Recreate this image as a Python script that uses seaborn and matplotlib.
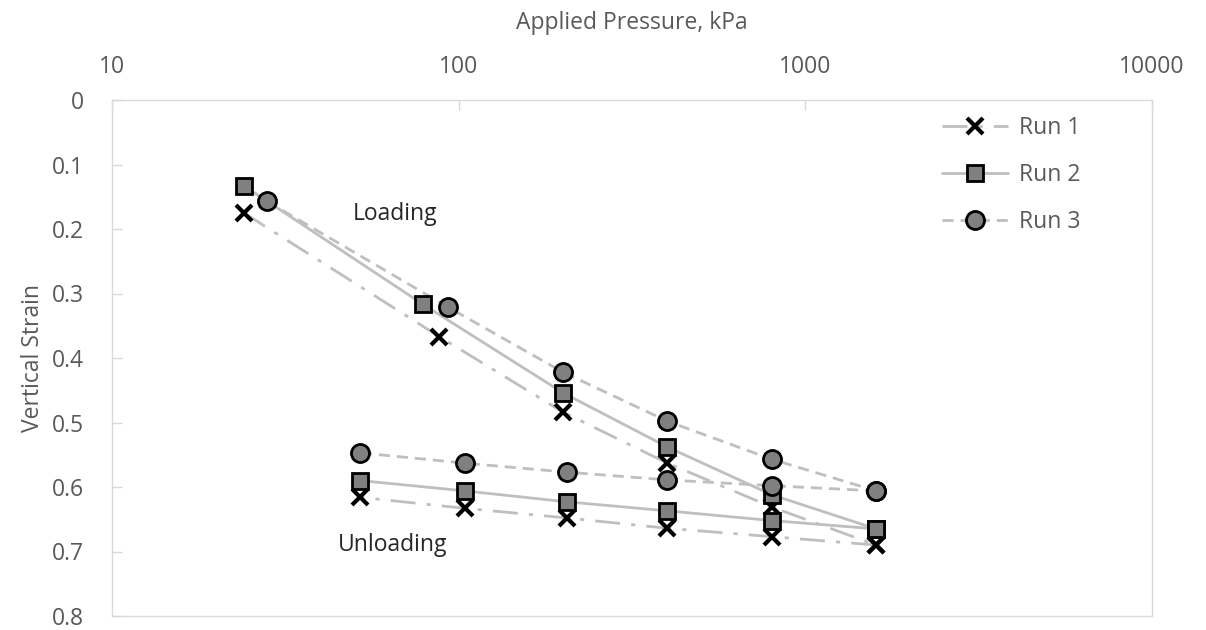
import matplotlib
matplotlib.use("Agg")
import matplotlib.pyplot as plt
import seaborn as sns
import pandas as pd
from matplotlib.ticker import FixedLocator, NullLocator, FixedFormatter

# ---- data ----
runs = ["Run 1", "Run 2", "Run 3"]
load_p_run1 = [24, 88, 200, 400, 800, 1600]
load_p_run2 = [24, 79, 200, 400, 800, 1600]
load_p_run3 = [28, 93, 200, 400, 800, 1600]
load_s_run1 = [0.175, 0.367, 0.484, 0.563, 0.631, 0.690]
load_s_run2 = [0.133, 0.317, 0.454, 0.538, 0.612, 0.665]
load_s_run3 = [0.157, 0.321, 0.422, 0.498, 0.557, 0.606]
unload_p = [1600, 800, 400, 205, 104, 52]
unload_s_run1 = [0.690, 0.677, 0.664, 0.648, 0.633, 0.616]
unload_s_run2 = [0.665, 0.652, 0.637, 0.623, 0.606, 0.590]
unload_s_run3 = [0.606, 0.598, 0.589, 0.577, 0.563, 0.547]
x_ticks = [10, 100, 1000, 10000]
x_tick_labels = ["10", "100", "1000", "10000"]
y_ticks = [0, 0.1, 0.2, 0.3, 0.4, 0.5, 0.6, 0.7, 0.8]
y_tick_labels = ["0", "0.1", "0.2", "0.3", "0.4", "0.5", "0.6", "0.7", "0.8"]

load_p = [load_p_run1, load_p_run2, load_p_run3]
load_s = [load_s_run1, load_s_run2, load_s_run3]
unload_s = [unload_s_run1, unload_s_run2, unload_s_run3]

sns.set_theme(style="white")
plt.rcParams['font.family'] = ['Open Sans', 'DejaVu Sans']

fig = plt.figure(figsize=(12.06, 6.30), dpi=100)
ax = fig.add_axes([112/1206, 1-616/630, (1152-112)/1206, (616-100)/630])

line_gray = "#bfbfbf"
text_gray = "#595959"
FS = 16.5
styles = {
    "Run 1": dict(ls=(0, (9, 4, 1.5, 4)), marker="x", ms=12, mfc="black", mec="black", mew=3),
    "Run 2": dict(ls="-", marker="s", ms=12, mfc="#808080", mec="black", mew=2),
    "Run 3": dict(ls=(0, (4, 2.5)), marker="o", ms=13, mfc="#808080", mec="black", mew=2),
}

for i, run in enumerate(runs):
    st = styles[run]
    for seg_p, seg_s in [(load_p[i], load_s[i]), (unload_p, unload_s[i])]:
        df = pd.DataFrame({"p": seg_p, "s": seg_s})
        sns.lineplot(data=df, x="p", y="s", ax=ax, sort=False, estimator=None,
                     color=line_gray, linewidth=2, linestyle=st["ls"], zorder=2)
    for seg_p, seg_s in [(load_p[i], load_s[i]), (unload_p, unload_s[i])]:
        ax.plot(seg_p, seg_s, linestyle="none", marker=st["marker"], markersize=st["ms"],
                markerfacecolor=st["mfc"], markeredgecolor=st["mec"], markeredgewidth=st["mew"],
                zorder=3)

ax.set_xscale("log")
ax.set_xlim(10, 10000)
ax.set_ylim(0.8, 0)

ax.xaxis.set_major_locator(FixedLocator(x_ticks))
ax.xaxis.set_major_formatter(FixedFormatter(x_tick_labels))
ax.xaxis.set_minor_locator(NullLocator())
ax.set_yticks(y_ticks)
ax.set_yticklabels(y_tick_labels)

ax.xaxis.tick_top()
ax.xaxis.set_label_position("top")
ax.tick_params(axis="x", which="major", direction="in", length=7, width=1, color="#d9d9d9",
               labelsize=FS, labelcolor=text_gray, pad=15, top=True, bottom=False)
ax.tick_params(axis="y", which="major", direction="in", length=7, width=1, color="#d9d9d9",
               labelsize=FS, labelcolor=text_gray, pad=20, left=True)

for sp in ax.spines.values():
    sp.set_color("#d9d9d9")
    sp.set_linewidth(1)

ax.set_xlabel("Applied Pressure, kPa", fontsize=FS, color=text_gray, labelpad=19)
ax.set_ylabel("Vertical Strain", fontsize=FS, color=text_gray, labelpad=5)

ax.annotate("Loading", xy=(395/1206, 1-214/630), xycoords="figure fraction",
            ha="center", va="center", fontsize=FS, color="#262626")
ax.annotate("Unloading", xy=(393/1206, 1-545/630), xycoords="figure fraction",
            ha="center", va="center", fontsize=FS, color="#262626")

handles = []
for run in runs:
    st = styles[run]
    h, = ax.plot([], [], color=line_gray, linewidth=2, linestyle=st["ls"], marker=st["marker"],
                 markersize=st["ms"], markerfacecolor=st["mfc"], markeredgecolor=st["mec"],
                 markeredgewidth=st["mew"])
    handles.append(h)
leg = ax.legend(handles, runs, loc="upper left", bbox_to_anchor=(942/1206, 1-116/630),
                bbox_transform=fig.transFigure, frameon=False, fontsize=FS,
                handlelength=2.9, labelspacing=1.0, handletextpad=0.45,
                borderpad=0, borderaxespad=0)
for t in leg.get_texts():
    t.set_color(text_gray)

fig.savefig("out.png", dpi=100)
